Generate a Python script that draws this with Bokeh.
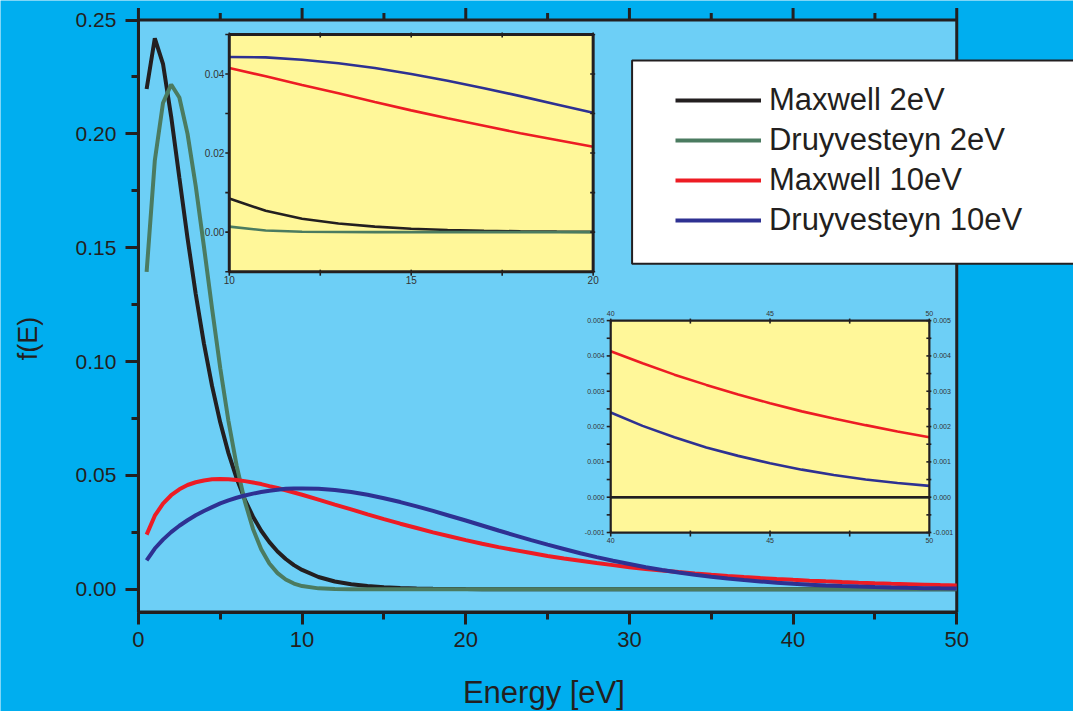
import math
from bokeh.plotting import figure
from bokeh.models import (Range1d, FixedTicker, PrintfTickFormatter,
                          Legend, LegendItem, Label)
from bokeh.embed import file_html
from bokeh.resources import INLINE
from bokeh.core.properties import value

# ---------------- data ----------------
energy = [0.5, 1.0, 1.5, 2.0, 2.5, 3.0, 3.5, 4.0, 4.5, 5.0,
          5.5, 6.0, 6.5, 7.0, 7.5, 8.0, 8.5, 9.0, 9.5, 10.0,
          11, 12, 13, 14, 15, 16, 17, 18, 19, 20,
          21, 22, 23, 24, 25, 26, 27, 28, 29, 30,
          31, 32, 33, 34, 35, 36, 37, 38, 39, 40,
          41, 42, 43, 44, 45, 46, 47, 48, 49, 50]

maxwell_2 = [0.2197, 0.2420, 0.2308, 0.2076, 0.1807, 0.1542, 0.1297, 0.1080, 0.0892, 0.0732,
             0.0598, 0.0487, 0.0394, 0.0319, 0.0257, 0.0207, 0.0166, 0.0133, 0.0106, 0.0085,
             0.0054, 0.0034, 0.0022, 0.0014, 0.00085, 0.00053, 0.00033, 0.00021, 0.00013, 0.00008,
             0.00005, 0.00003, 0.00002, 0.00001, 0.00001, 0, 0, 0, 0, 0,
             0, 0, 0, 0, 0, 0, 0, 0, 0, 0,
             0, 0, 0, 0, 0, 0, 0, 0, 0, 0]

druyvesteyn_2 = [0.1394, 0.1883, 0.2136, 0.2217, 0.2160, 0.2000, 0.1771, 0.1506, 0.1232, 0.0971,
                 0.0739, 0.0543, 0.0386, 0.0265, 0.0176, 0.0113, 0.0071, 0.0043, 0.0025, 0.0014,
                 0.0004, 0.0001, 0.00002, 0, 0, 0, 0, 0, 0, 0,
                 0, 0, 0, 0, 0, 0, 0, 0, 0, 0,
                 0, 0, 0, 0, 0, 0, 0, 0, 0, 0,
                 0, 0, 0, 0, 0, 0, 0, 0, 0, 0]

maxwell_10 = [0.0240, 0.0323, 0.0376, 0.0413, 0.0439, 0.0458, 0.0470, 0.0478, 0.0483, 0.0484,
              0.0483, 0.0480, 0.0475, 0.0469, 0.0462, 0.0453, 0.0445, 0.0435, 0.0425, 0.0415,
              0.0394, 0.0372, 0.0351, 0.0329, 0.0308, 0.0288, 0.0269, 0.0250, 0.0233, 0.0216,
              0.0200, 0.0185, 0.0172, 0.0159, 0.0146, 0.0135, 0.0125, 0.0115, 0.0106, 0.0097,
              0.00895, 0.00823, 0.00756, 0.00694, 0.00638, 0.00585, 0.00537, 0.00492, 0.00451, 0.00413,
              0.00379, 0.00347, 0.00318, 0.00291, 0.00266, 0.00243, 0.00223, 0.00204, 0.00186, 0.00170]

druyvesteyn_10 = [0.0127, 0.0179, 0.0218, 0.0251, 0.0279, 0.0303, 0.0325, 0.0344, 0.0361, 0.0377,
                  0.0390, 0.0402, 0.0412, 0.0420, 0.0427, 0.0433, 0.0437, 0.0441, 0.0443, 0.0443,
                  0.0442, 0.0436, 0.0427, 0.0415, 0.0400, 0.0383, 0.0364, 0.0344, 0.0323, 0.0302,
                  0.0280, 0.0258, 0.0237, 0.0216, 0.0196, 0.0177, 0.0158, 0.0141, 0.0125, 0.0111,
                  0.00970, 0.00848, 0.00738, 0.00640, 0.00552, 0.00474, 0.00405, 0.00345, 0.00290, 0.00240,
                  0.00202, 0.00170, 0.00141, 0.00117, 0.00096, 0.00078, 0.00063, 0.00050, 0.00040, 0.00032]

series_labels = ["Maxwell 2eV", "Druyvesteyn 2eV", "Maxwell 10eV", "Druyvesteyn 10eV"]
series_values = [maxwell_2, druyvesteyn_2, maxwell_10, druyvesteyn_10]
series_colors = ["#231f20", "#4b7b60", "#ed1c24", "#2e3192"]

x_limits = (0, 50)
y_limits = (-0.01, 0.25)
x_ticks = [0, 10, 20, 30, 40, 50]
x_minor_ticks = [5, 15, 25, 35, 45]
y_ticks = [0.00, 0.05, 0.10, 0.15, 0.20, 0.25]
y_minor_ticks = [0.025, 0.075, 0.125, 0.175, 0.225]
x_label = "Energy [eV]"
y_label = "f(E)"

inset1_x = (10, 20)
inset1_y = (-0.01, 0.05)
inset1_xticks = [10, 12.5, 15, 17.5, 20]
inset1_xlabels = [10, 15, 20]
inset1_yticks = [-0.01, 0.0, 0.01, 0.02, 0.03, 0.04, 0.05]
inset1_ylabels = [0.00, 0.02, 0.04]

inset2_x = (40, 50)
inset2_y = (-0.001, 0.005)
inset2_xticks = [40, 42.5, 45, 47.5, 50]
inset2_xlabels = [40, 45, 50]
inset2_yticks = [-0.001, -0.0005, 0.0, 0.0005, 0.001, 0.0015, 0.002, 0.0025,
                 0.003, 0.0035, 0.004, 0.0045, 0.005]
inset2_ylabels = [-0.001, 0.0, 0.001, 0.002, 0.003, 0.004, 0.005]

# ---------------- layout (reference pixels scaled to the canvas) ----------------
W, H = 1073, 711
SX, SY = W / 1089, H / 727


def sx(v):
    return v * SX


def sy(v):
    return v * SY


# the frame covers the whole canvas; the plot box sits inside it
FL, FR, FT, FB = 0, W, 0, H
PB_L, PB_R = sx(140), sx(970.5)
PB_T, PB_B = sy(20), sy(625.3)

KX = (PB_R - PB_L) / (x_limits[1] - x_limits[0])
KY = (PB_B - PB_T) / (y_limits[1] - y_limits[0])
x_start = x_limits[0] - (PB_L - FL) / KX
x_end = x_limits[1] + (FR - PB_R) / KX
y_start = y_limits[0] - (FB - PB_B) / KY
y_end = y_limits[1] + (PB_T - FT) / KY


def data_x(px):
    return x_start + (px - FL) / KX


def data_y(py):
    return y_start + (FB - py) / KY


DARK = "#231f20"
OUTER = "#00aeef"
FONT = "Liberation Sans"

p = figure(width=W, height=H, x_range=Range1d(x_start, x_end),
           y_range=Range1d(y_start, y_end),
           output_backend="svg", toolbar_location=None,
           min_border_left=0, min_border_right=0, min_border_top=0, min_border_bottom=0,
           background_fill_color=OUTER, border_fill_color=OUTER,
           outline_line_color=None)
p.grid.visible = False

# plot box (light blue) with its frame and the top ticks
p.quad(left=[x_limits[0]], right=[x_limits[1]], bottom=[y_limits[0]], top=[y_limits[1]],
       fill_color="#6dcff6", line_color=DARK, line_width=3)
p.segment(x0=x_ticks, x1=x_ticks, y0=[y_limits[1]] * len(x_ticks),
          y1=[y_limits[1] + 12 / KY] * len(x_ticks), line_color=DARK, line_width=3)
p.segment(x0=x_minor_ticks, x1=x_minor_ticks, y0=[y_limits[1]] * len(x_minor_ticks),
          y1=[y_limits[1] + 7 / KY] * len(x_minor_ticks), line_color=DARK, line_width=3)

xa = p.xaxis[0]
xa.ticker = FixedTicker(ticks=x_ticks, minor_ticks=x_minor_ticks)
xa.bounds = x_limits
xa.fixed_location = y_limits[0]
ya = p.yaxis[0]
ya.ticker = FixedTicker(ticks=y_ticks, minor_ticks=y_minor_ticks)
ya.formatter = PrintfTickFormatter(format="%.2f")
ya.bounds = y_limits
ya.fixed_location = x_limits[0]
for ax in (xa, ya):
    ax.axis_line_color = DARK
    ax.axis_line_width = 3
    ax.major_tick_line_color = DARK
    ax.minor_tick_line_color = DARK
    ax.major_tick_line_width = 3
    ax.minor_tick_line_width = 3
    ax.major_tick_in = 0
    ax.minor_tick_in = 0
    ax.major_label_text_font = FONT
    ax.major_label_text_color = DARK
xa.major_tick_out = 12
xa.minor_tick_out = 7
xa.major_label_text_font_size = "22px"
xa.major_label_standoff = 8
ya.major_tick_out = 13
ya.minor_tick_out = 7
ya.major_label_text_font_size = "21px"
ya.major_label_standoff = 9

# axis titles (inside the canvas-wide frame)
p.add_layout(Label(x=sx(551.5) - FL, y=FB - sy(707.5), x_units="screen", y_units="screen",
                   text=x_label, text_font=FONT, text_font_size="31px", text_color=DARK,
                   text_align="center", text_baseline="middle"))
p.add_layout(Label(x=sx(27.7) - FL, y=FB - sy(345.5), x_units="screen", y_units="screen",
                   text=y_label, text_font=FONT, text_font_size="27px", text_color=DARK,
                   angle=math.pi / 2, text_align="center", text_baseline="middle"))

# ---------------- main curves ----------------
renderers = []
for vals, col in zip(series_values, series_colors):
    renderers.append(p.line(energy, vals, line_color=col, line_width=4))


# ---------------- insets via extra ranges ----------------
def x_range_for(d, box):
    s0, s1 = box[0], box[1]
    k = (s1 - s0) / (d[1] - d[0])
    return Range1d(d[0] - (s0 - FL) / k, d[1] + (FR - s1) / k), k


def y_range_for(d, box):
    st, sb = box[2], box[3]
    k = (sb - st) / (d[1] - d[0])
    return Range1d(d[0] - (FB - sb) / k, d[1] + (st - FT) / k), k


I1 = (sx(232.2), sx(601.5), sy(34.7), sy(277.3))
I2 = (sx(619.3), sx(942.7), sy(327.3), sy(544.0))
r1x, k1x = x_range_for(inset1_x, I1)
r1y, k1y = y_range_for(inset1_y, I1)
r2x, k2x = x_range_for(inset2_x, I2)
r2y, k2y = y_range_for(inset2_y, I2)
p.extra_x_ranges = {"i1x": r1x, "i2x": r2x}
p.extra_y_ranges = {"i1y": r1y, "i2y": r2y}


def window(xs, ys, lo, hi):
    pts = [(a, b) for a, b in zip(xs, ys) if lo <= a <= hi]
    return [a for a, _ in pts], [b for _, b in pts]


def draw_inset(xr, yr, xn, yn, kx, ky, order, lw, xt, xl, yt, yl, fsize, yfmt,
               right_labels, top_labels, frame_w, offs):
    kw = dict(x_range_name=xn, y_range_name=yn)
    p.quad(left=[xr[0]], right=[xr[1]], bottom=[yr[0]], top=[yr[1]],
           fill_color="#fff799", line_color=None, **kw)
    for i in order:
        ex, ey = window(energy, series_values[i], xr[0], xr[1])
        p.line(ex, ey, line_color=series_colors[i], line_width=lw, **kw)
    p.quad(left=[xr[0]], right=[xr[1]], bottom=[yr[0]], top=[yr[1]],
           fill_color=None, line_color=DARK, line_width=frame_w, **kw)
    tk = dict(line_color=DARK, line_width=1.6, **kw)
    p.segment(x0=[xr[0] - 4 / kx] * len(yt), x1=[xr[0]] * len(yt), y0=yt, y1=yt, **tk)
    p.segment(x0=[xr[1] - 3 / kx] * len(yt), x1=[xr[1] + 2 / kx] * len(yt), y0=yt, y1=yt, **tk)
    p.segment(x0=xt, x1=xt, y0=[yr[1] - 3 / ky] * len(xt), y1=[yr[1] + 2 / ky] * len(xt), **tk)
    p.segment(x0=xt, x1=xt, y0=[yr[0] - 4 / ky] * len(xt), y1=[yr[0] + 2 / ky] * len(xt), **tk)
    tx = dict(text_font=value(FONT), text_font_size=value(fsize), text_color="#333333", **kw)
    ylab = [yfmt % v for v in yl]
    xlab = ["%g" % v for v in xl]
    p.text(x=[xr[0]] * len(yl), y=yl, text=ylab, text_align="right",
           text_baseline="middle", x_offset=-offs, **tx)
    p.text(x=xl, y=[yr[0]] * len(xl), text=xlab, text_align="center",
           text_baseline="top", y_offset=offs - 1, **tx)
    if right_labels:
        p.text(x=[xr[1]] * len(yl), y=yl, text=ylab, text_align="left",
               text_baseline="middle", x_offset=4, **tx)
    if top_labels:
        p.text(x=xl, y=[yr[1]] * len(xl), text=xlab, text_align="center",
               text_baseline="bottom", y_offset=-5, **tx)


draw_inset(inset1_x, inset1_y, "i1x", "i1y", k1x, k1y, [0, 1, 2, 3], 2.6,
           inset1_xticks, inset1_xlabels, inset1_yticks, inset1_ylabels, "10px", "%.2f",
           False, False, 3, 5)
draw_inset(inset2_x, inset2_y, "i2x", "i2y", k2x, k2y, [1, 0, 2, 3], 2.6,
           inset2_xticks, inset2_xlabels, inset2_yticks, inset2_ylabels, "7px", "%.3f",
           True, True, 2.2, 6)

# ---------------- legend ----------------
# white legend panel (extends past the right edge of the picture)
p.quad(left=[data_x(sx(641))], right=[x_end + 5], top=[data_y(sy(61.3))],
       bottom=[data_y(sy(269.3))], fill_color="white", line_color=DARK, line_width=2)

row_h = (sy(225.3) - sy(102.7)) / 3
first_top = sy(102.7) - row_h / 2
legend = Legend(items=[LegendItem(label=lab, renderers=[r])
                       for lab, r in zip(series_labels, renderers)],
                location=(sx(685) - FL, FB - (first_top + 4 * row_h)),
                padding=0, spacing=0, margin=0,
                glyph_width=round(sx(87.7)), glyph_height=round(row_h),
                label_height=round(row_h), label_standoff=8,
                label_text_font=FONT, label_text_font_size="31px", label_text_color=DARK,
                background_fill_alpha=0, border_line_alpha=0)
p.add_layout(legend)

open("out.html", "w").write(file_html(p, INLINE))
